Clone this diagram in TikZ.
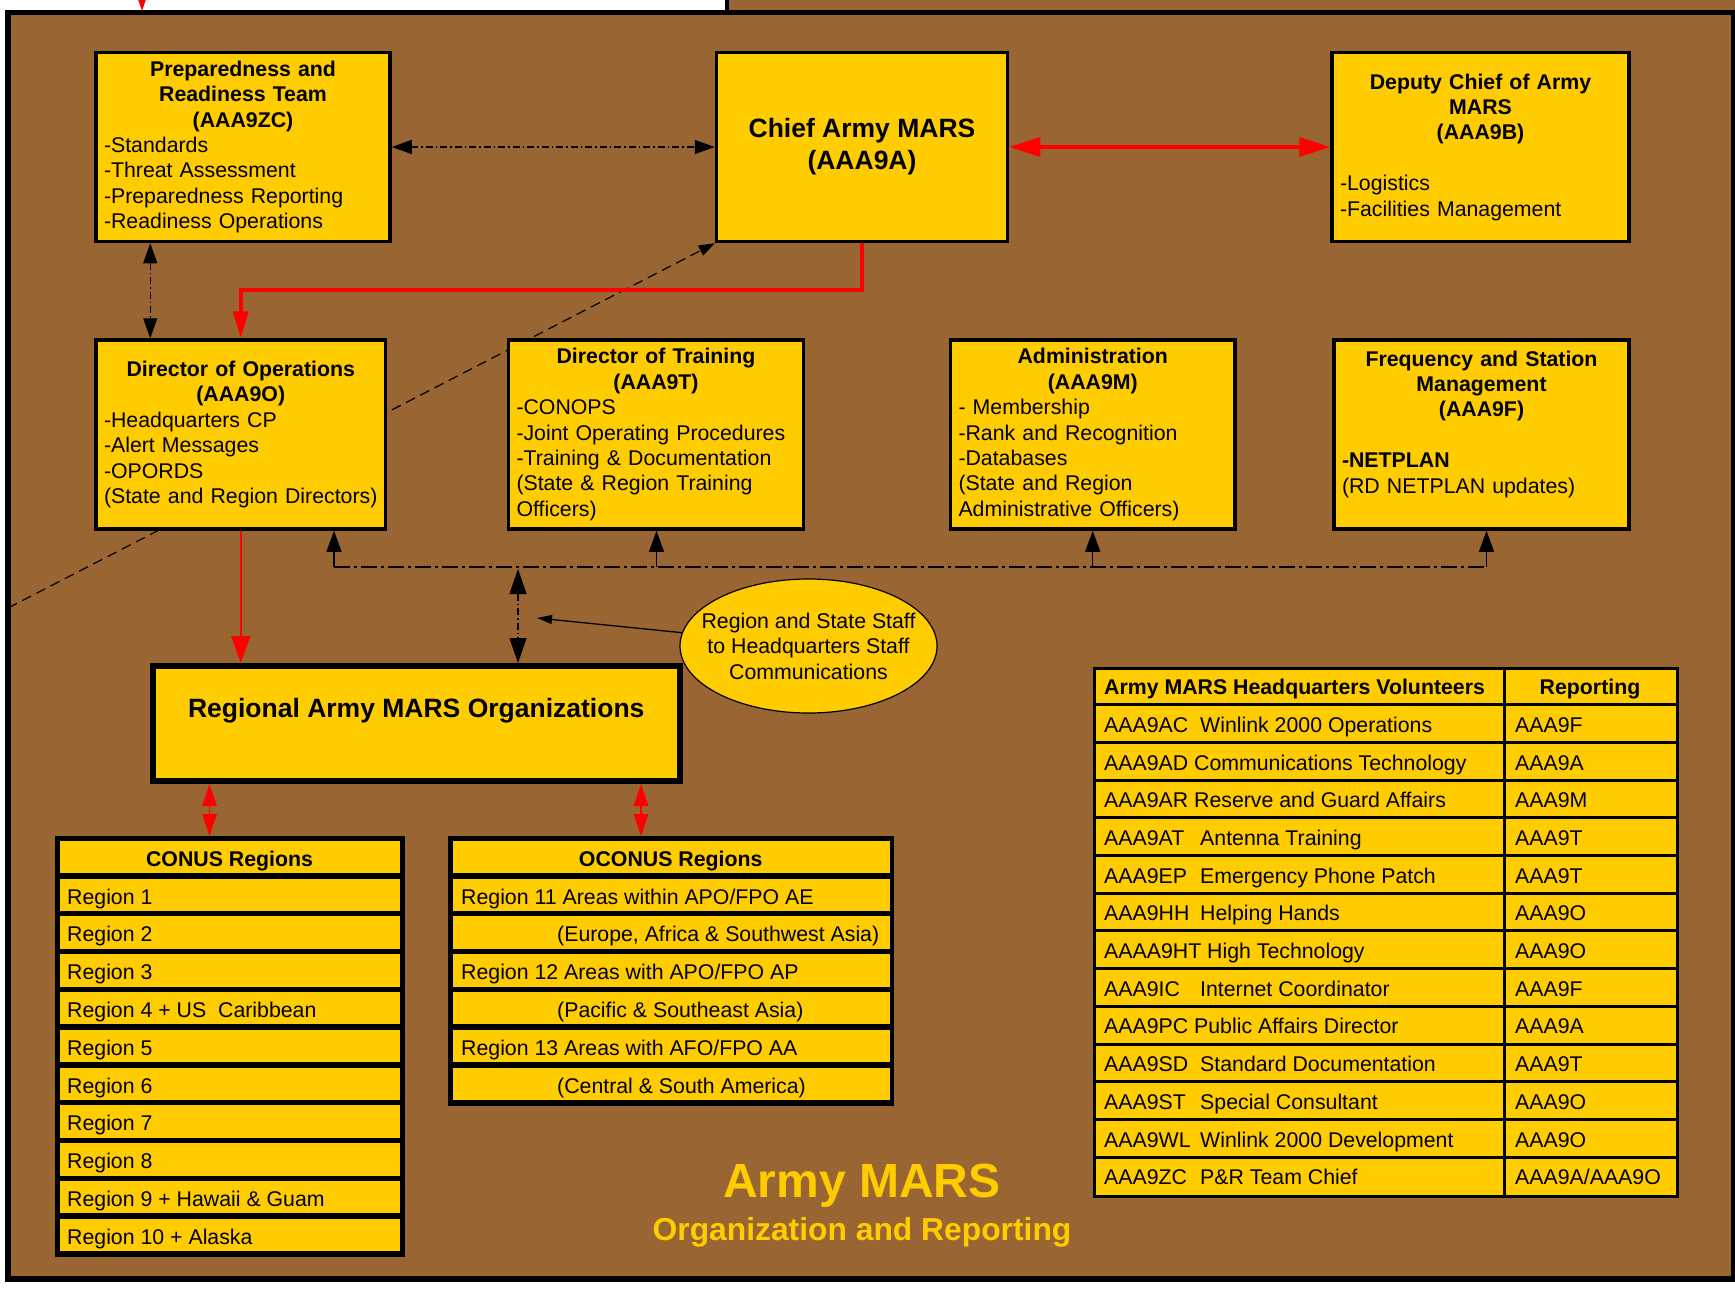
\documentclass[tikz,border=0pt]{standalone}
\usepackage{fontspec}
\setmainfont{Liberation Sans}
\usetikzlibrary{arrows.meta,shapes.geometric,calc}
\definecolor{mbrown}{HTML}{996633}
\definecolor{myellow}{HTML}{FFCC00}
\definecolor{mred}{HTML}{FF0000}
\newcommand\fsn{\fontsize{21.3}{25.4}\selectfont}
\newcommand\fsl{\fontsize{26.5}{32}\selectfont}
\newcommand\head[1]{{\centering\bfseries #1\par}}
\newcommand\tb[1]{\makebox[96pt][l]{#1}}
\begin{document}
\begin{tikzpicture}[x=1pt,y=-1pt,
  box/.style={draw=black,line width=3.5pt,fill=myellow,inner xsep=8pt,inner ysep=0pt,minimum height=189pt,align=left,font=\fsn},
  ddot/.style={dash pattern=on 7pt off 3pt on 1.5pt off 3pt},
  ddlong/.style={dash pattern=on 16pt off 4pt on 3pt off 4pt},
  cell/.style={anchor=base west,font=\fsn,inner sep=0pt},
  hcell/.style={anchor=base,font=\fsn\bfseries,inner sep=0pt}
]
\useasboundingbox (0,0) rectangle (1735,1295);
\fill[white] (0,0) rectangle (1735,1295);
% top strip
\fill[mbrown] (727,0) rectangle (1735,13);
\draw[line width=4pt] (727,0) -- (727,14);
% frame
\draw[line width=5.5pt,fill=mbrown] (8,12.5) rectangle (1734,1279);
% top red arrow
\coordinate (ta) at (142,-40);
\coordinate (tbb) at (142,11);
\draw[mred,line width=2pt,-{Triangle[length=24pt,width=16pt]}] (ta) -- (tbb);

% boxes
\node[box,text width=278pt,minimum width=294pt] (prt) at (243,147)
 {\head{Preparedness and\\Readiness Team\\(AAA9ZC)}-Standards\\-Threat Assessment\\-Preparedness Reporting\\-Readiness Operations};
\node[box,minimum width=291pt,align=center,font=\fsl\bfseries] (chief) at (862,147) {Chief Army MARS\\(AAA9A)};
\node[box,text width=281pt,minimum width=297pt] (dep) at (1480.5,147)
 {\head{Deputy Chief of Army\\MARS\\(AAA9B)\\\mbox{}}-Logistics\\-Facilities Management};

% diagonal dashed line (behind second row)
\coordinate (dstart) at (8,608);
\draw[line width=1.2pt,dash pattern=on 10pt off 6pt,-{Triangle[length=16pt,width=11pt]}] (dstart) -- (chief.south west);

\node[box,text width=273.5pt,minimum width=289.5pt] (dops) at (240.75,434.5)
 {\head{Director of Operations\\(AAA9O)}-Headquarters CP\\-Alert Messages\\-OPORDS\\(State and Region Directors)};
\node[box,text width=279pt,minimum width=295pt] (dot) at (656,434.5)
 {\head{Director of Training\\(AAA9T)}-CONOPS\\-Joint Operating Procedures\\-Training \& Documentation\\(State \& Region Training\\Officers)};
\node[box,text width=268.5pt,minimum width=284.5pt] (adm) at (1092.75,434.5)
 {\head{Administration\\(AAA9M)}- Membership\\-Rank and Recognition\\-Databases\\(State and Region\\Administrative Officers)};
\node[box,text width=279pt,minimum width=295pt] (frq) at (1481.5,434.5)
 {\head{Frequency and Station\\Management\\(AAA9F)\\\mbox{}}\textbf{-NETPLAN}\\(RD NETPLAN updates)\\\mbox{}};

% regional box
\node[draw=black,line width=6pt,fill=myellow,minimum width=526.5pt,minimum height=115pt,align=center,font=\fsl\bfseries] (reg) at (416.25,723.5) {Regional Army MARS Organizations\\\mbox{}};

% ellipse
\node[ellipse,draw=black,line width=1.2pt,fill=myellow,minimum width=257pt,minimum height=134pt,inner sep=0pt] (ell) at (808.5,646) {};
\node[align=center,font=\fsn,inner sep=0pt] (ellt) at (ell.center) {Region and State Staff\\to Headquarters Staff\\Communications};

% CONUS table
\node[fill=black,minimum width=350pt,minimum height=421pt,inner sep=0pt,anchor=north west] (conus) at (54.5,836) {};
\foreach \i in {0,...,10}
  \fill[myellow] (59.5,{840.7+37.8*\i}) rectangle (399.5,{873.2+37.8*\i});
\node[hcell] (ch) at (229.5,866.5) {CONUS Regions};
\foreach \t [count=\i] in {Region 1,Region 2,Region 3,{Region 4 + US\ \ Caribbean},Region 5,Region 6,Region 7,Region 8,{Region 9 + Hawaii \& Guam},{Region 10 + Alaska}}
  \node[cell] (cr\i) at (67,{866.2+37.8*\i}) {\t};

% OCONUS table
\node[fill=black,minimum width=446pt,minimum height=270pt,inner sep=0pt,anchor=north west] (ocon) at (448,836) {};
\foreach \i in {0,...,6}
  \fill[myellow] (452.5,{840.7+37.8*\i}) rectangle (889.5,{873.2+37.8*\i});
\node[hcell] (oh) at (670.7,866.5) {OCONUS Regions};
\node[cell] (or1) at (461,{866.2+37.8*1}) {Region 11 Areas within APO/FPO AE};
\node[cell] (or2) at (557,{866.2+37.8*2}) {(Europe, Africa \& Southwest Asia)};
\node[cell] (or3) at (461,{866.2+37.8*3}) {Region 12 Areas with APO/FPO AP};
\node[cell] (or4) at (557,{866.2+37.8*4}) {(Pacific \& Southeast Asia)};
\node[cell] (or5) at (461,{866.2+37.8*5}) {Region 13 Areas with AFO/FPO AA};
\node[cell] (or6) at (557,{866.2+37.8*6}) {(Central \& South America)};

% Volunteers table
\node[fill=myellow,draw=black,line width=3pt,minimum width=582.5pt,minimum height=527.8pt,inner sep=0pt,anchor=north west] (vol) at (1093,667) {};
\foreach \k in {1,...,13}
  \draw[line width=3pt] (1093,{667+37.7*\k}) -- (1675.5,{667+37.7*\k});
\draw[line width=3pt] (1504,667) -- (1504,1194.8);
\node[cell,font=\fsn\bfseries] (vh1) at (1104,{667+37.7*0.5+8.8}) {Army MARS Headquarters Volunteers};
\node[hcell] (vh2) at (1590,{667+37.7*0.5+8.8}) {Reporting};
\foreach \a/\b [count=\k] in {{\tb{AAA9AC}Winlink 2000 Operations}/AAA9F,
  {AAA9AD Communications Technology}/AAA9A,
  {AAA9AR Reserve and Guard Affairs}/AAA9M,
  {\tb{AAA9AT}Antenna Training}/AAA9T,
  {\tb{AAA9EP}Emergency Phone Patch}/AAA9T,
  {\tb{AAA9HH}Helping Hands}/AAA9O,
  {AAAA9HT High Technology}/AAA9O,
  {\tb{AAA9IC}Internet Coordinator}/AAA9F,
  {AAA9PC Public Affairs Director}/AAA9A,
  {\tb{AAA9SD}Standard Documentation}/AAA9T,
  {\tb{AAA9ST}Special Consultant}/AAA9O,
  {\tb{AAA9WL}Winlink 2000 Development}/AAA9O}
{
  \node[cell] (va\k) at (1104,{667+37.7*(\k+0.5)+8.8}) {\a};
  \node[cell] (vb\k) at (1515,{667+37.7*(\k+0.5)+8.8}) {\b};
}
\node[cell] (va13) at (1104,{667+37.7*13.5+8.8}) {\tb{AAA9ZC}P\&R Team Chief};
\node[cell] (vb13) at (1515,{667+37.7*13.5+8.8}) {AAA9A/AAA9O};

% title
\node[anchor=base,font=\bfseries\fontsize{48}{56}\selectfont,text=myellow,inner sep=0pt] (title) at (862,1197) {Army MARS};
\node[anchor=base,font=\bfseries\fontsize{31.8}{37}\selectfont,text=myellow,inner sep=0pt] (subtitle) at (862,1240) {Organization and Reporting};

% connectors
\draw[ddot,line width=1.3pt,{Triangle[length=20pt,width=14pt]}-{Triangle[length=20pt,width=14pt]}] (prt.east) -- (chief.west);
\draw[mred,line width=3.5pt,{Triangle[length=31pt,width=19pt]}-{Triangle[length=31pt,width=19pt]}] (chief.east) -- (dep.west);
\draw[mred,line width=4pt,-{Triangle[length=27pt,width=15pt]}] (chief.south) |- ($(dops.north)+(0,-48)$) -- (dops.north);
\coordinate (pa) at ($(prt.south west)+(56,0)$);
\coordinate (pb) at ($(dops.north west)+(56,0)$);
\draw[ddot,line width=1.3pt,{Triangle[length=20pt,width=14pt]}-{Triangle[length=20pt,width=14pt]}] (pa) -- (pb);
\draw[mred,line width=2.2pt,-{Triangle[length=27pt,width=19pt]}] (dops.south) -- (dops.south |- reg.north);

\coordinate (s1) at (334,567);
\coordinate (s2) at (656.5,567);
\coordinate (s3) at (1092.7,567);
\coordinate (s4) at (1486.5,567);
\draw[ddlong,line width=1.3pt] (s1) -- (s4);
\draw[line width=1.2pt,-{Triangle[length=21pt,width=15pt]}] (s1) -- (s1 |- dops.south);
\draw[line width=1.2pt,-{Triangle[length=21pt,width=15pt]}] (s2) -- (s2 |- dot.south);
\draw[line width=1.2pt,-{Triangle[length=21pt,width=15pt]}] (s3) -- (s3 |- adm.south);
\draw[line width=1.2pt,-{Triangle[length=21pt,width=15pt]}] (s4) -- (s4 |- frq.south);

\coordinate (v) at (518,569);
\draw[ddot,line width=1.3pt,{Triangle[length=25pt,width=17pt]}-{Triangle[length=25pt,width=17pt]}] (v) -- (v |- reg.north);
\coordinate (ptr) at (537,618);
\draw[line width=1.3pt,-{Triangle[length=15pt,width=9pt]}] (ell.174) -- (ptr);

\coordinate (ra) at ($(reg.south west)+(59.5,0)$);
\coordinate (rb) at ($(reg.south west)+(491,0)$);
\draw[mred,line width=1.5pt,{Triangle[length=22pt,width=14.5pt]}-{Triangle[length=22pt,width=14.5pt]}] (ra) -- (ra |- conus.north);
\draw[mred,line width=1.5pt,{Triangle[length=22pt,width=14.5pt]}-{Triangle[length=22pt,width=14.5pt]}] (rb) -- (rb |- ocon.north);
\end{tikzpicture}
\end{document}
